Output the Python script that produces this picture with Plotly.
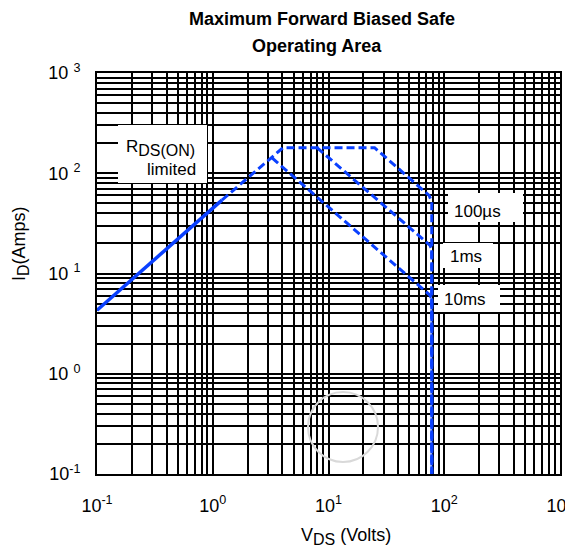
import plotly.graph_objects as go

# ---- data ----
rds_x = [0.1, 1.2]
rds_y = [4.3, 54]

us100_x = [1.2, 4.05, 25.0, 74.0, 78.0, 78.0]
us100_y = [54, 180, 180, 60, 52, 0.1]

ms1_x = [7.95, 75.0, 78.0, 78.0]
ms1_y = [180, 19.2, 17.5, 0.1]

ms10_x = [3.25, 75.0, 78.0, 78.0]
ms10_y = [142, 6.1, 5.6, 0.1]

x_tick_vals = [0.1, 1, 10, 100, 1000]
x_tick_text = ["10<sup>-1</sup>", "10<sup>0</sup>", "10<sup>1</sup>", "10<sup>2</sup>", "10<sup>3</sup>"]
y_tick_vals = [0.1, 1, 10, 100, 1000]
y_tick_text = ["10<sup>-1</sup>", "10 <sup>0</sup>", "10 <sup>1</sup>", "10 <sup>2</sup>", "10 <sup>3</sup>"]

BLUE = "#0a40ff"
FONT = "Liberation Sans, Arial, sans-serif"

fig = go.Figure()
fig.add_trace(go.Scatter(x=rds_x, y=rds_y, mode="lines",
                         line=dict(color=BLUE, width=3.5), showlegend=False))
for xs, ys in [(us100_x, us100_y), (ms1_x, ms1_y), (ms10_x, ms10_y)]:
    fig.add_trace(go.Scatter(x=xs, y=ys, mode="lines",
                             line=dict(color=BLUE, width=3, dash="8px,4px"),
                             showlegend=False))

# page has an 8px body margin; work in page pixels and convert
OFF = 8
PAGE_W, PAGE_H = 573, 554
W, H = PAGE_W - OFF, PAGE_H - OFF
PL, PR, PT, PB = 97, 560, 73, 474          # plot area in page pixels
L, T = PL - OFF, PT - OFF
R = W - (PR - OFF)
B = H - (PB - OFF)
pw = PR - PL
ph = PB - PT


def fx(xp):
    return (xp - PL) / pw


def fy(yp):
    return (PB - yp) / ph


axis_common = dict(
    type="log", showline=True, linecolor="black", linewidth=2, mirror=True,
    showgrid=True, gridcolor="black", gridwidth=2,
    ticks="", tickfont=dict(family=FONT, size=18, color="black"),
    minor=dict(showgrid=True, gridcolor="black", gridwidth=2, dtick="D1", ticks=""),
    zeroline=False, range=[-1, 3], automargin=False, ticklabeloverflow="allow",
)

fig.update_xaxes(**axis_common, tickvals=x_tick_vals, ticktext=x_tick_text,
                 ticklabelstandoff=14)
fig.update_yaxes(**axis_common, tickvals=y_tick_vals, ticktext=y_tick_text,
                 ticklabelstandoff=11)

ann = []


def text(x, y, s, anchor="left", size=17, bold=False, angle=0):
    f = dict(family=FONT, size=size, color="black")
    ann.append(dict(x=fx(x), y=fy(y), xref="paper", yref="paper", xanchor=anchor,
                    yanchor="middle", text=("<b>%s</b>" % s) if bold else s,
                    showarrow=False, font=f, textangle=angle))


# title
text(322, 19, "Maximum Forward Biased Safe", anchor="center", size=18, bold=True)
text(317, 46, "Operating Area", anchor="center", size=18, bold=True)
# axis titles
text(346, 536, "V<sub><span style='font-size:16px'>DS</span></sub> (Volts)", anchor="center", size=18)
text(20, 244, "I<sub><span style='font-size:16px'>D</span></sub>(Amps)", anchor="center", size=18, angle=-90)
# labels
text(124, 148, "R<sub><span style='font-size:16px'>DS(ON)</span></sub>", size=17)
text(145, 169, "limited", size=17)
text(452, 211, "100µs", size=17)
text(448, 256, "1ms", size=17)
text(442, 299, "10ms", size=17)

shapes = []


def rect(x0, y0, x1, y1):
    shapes.append(dict(type="rect", xref="paper", yref="paper",
                       x0=fx(x0), x1=fx(x1), y0=fy(y1), y1=fy(y0),
                       fillcolor="white", line=dict(width=0), layer="above"))


rect(118, 125, 207, 183)
rect(448, 193, 523, 222)
rect(443, 243, 493, 268)
rect(438, 285, 500, 312)
shapes.append(dict(type="circle", xref="paper", yref="paper",
                   x0=fx(308), x1=fx(378), y0=fy(462), y1=fy(392),
                   line=dict(color="#d9d9d9", width=2), layer="above"))

fig.update_layout(
    width=W, height=H,
    margin=dict(l=L, r=R, t=T, b=B, pad=0),
    paper_bgcolor="white", plot_bgcolor="white",
    annotations=ann, shapes=shapes,
)

fig.write_html("out.html")
